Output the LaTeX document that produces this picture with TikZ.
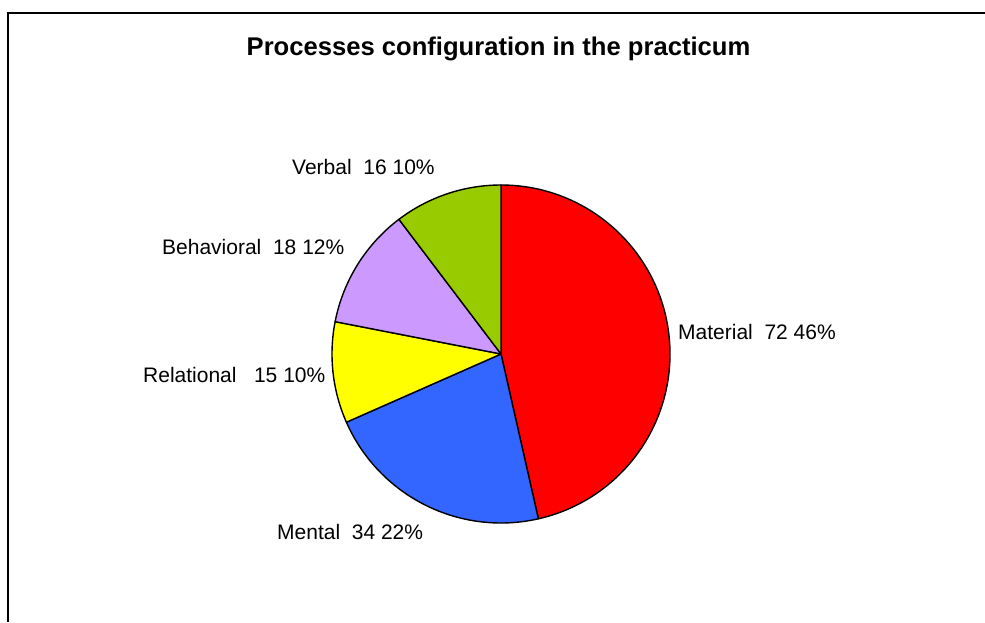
\documentclass[tikz,border=0pt]{standalone}
\usepackage{fontspec}
\setmainfont{Liberation Sans}
\definecolor{matred}{HTML}{FF0000}
\definecolor{mentblue}{HTML}{3366FF}
\definecolor{relyellow}{HTML}{FFFF00}
\definecolor{behlilac}{HTML}{CC99FF}
\definecolor{verbgreen}{HTML}{99CC00}
\begin{document}
\begin{tikzpicture}[x=1pt,y=1pt,
  slice/.style={draw=black,line width=1.4pt,line join=round},
  lbl/.style={inner sep=0pt,anchor=base west,font=\fontsize{21}{24}\selectfont},
  charttitle/.style={inner sep=0pt,anchor=base,font=\fontsize{25.6}{29}\selectfont\bfseries}]
  \useasboundingbox (0,0) rectangle (985,622);
  \fill[white] (0,0) rectangle (985,622);
  % chart frame (top and left edges)
  \draw[line width=2pt] (7.5,0) -- (7.5,609) -- (985,609);
  % title
  \node[charttitle] (title) at (498.5,566) {Processes configuration in the practicum};
  % pie: 72, 34, 15, 18, 16 of 155, clockwise from the top
  \coordinate (c) at (501,268);
  \def\R{169pt}
  \filldraw[slice,fill=matred] (c) -- ++(90:\R) arc[start angle=90,end angle=-77.226,radius=\R] -- cycle;
  \filldraw[slice,fill=mentblue] (c) -- ++(-77.226:\R) arc[start angle=-77.226,end angle=-156.194,radius=\R] -- cycle;
  \filldraw[slice,fill=relyellow] (c) -- ++(-156.194:\R) arc[start angle=-156.194,end angle=-191.032,radius=\R] -- cycle;
  \filldraw[slice,fill=behlilac] (c) -- ++(-191.032:\R) arc[start angle=-191.032,end angle=-232.839,radius=\R] -- cycle;
  \filldraw[slice,fill=verbgreen] (c) -- ++(-232.839:\R) arc[start angle=-232.839,end angle=-270,radius=\R] -- cycle;
  % slice labels
  \node[lbl] (material) at (678,283) {Material~~72 46\%};
  \node[lbl] (mental) at (277,83) {Mental~~34 22\%};
  \node[lbl] (relational) at (143,240) {Relational~~~15 10\%};
  \node[lbl] (behavioral) at (162,367) {Behavioral~~18 12\%};
  \node[lbl] (verbal) at (292,447) {Verbal~~16 10\%};
\end{tikzpicture}
\end{document}
